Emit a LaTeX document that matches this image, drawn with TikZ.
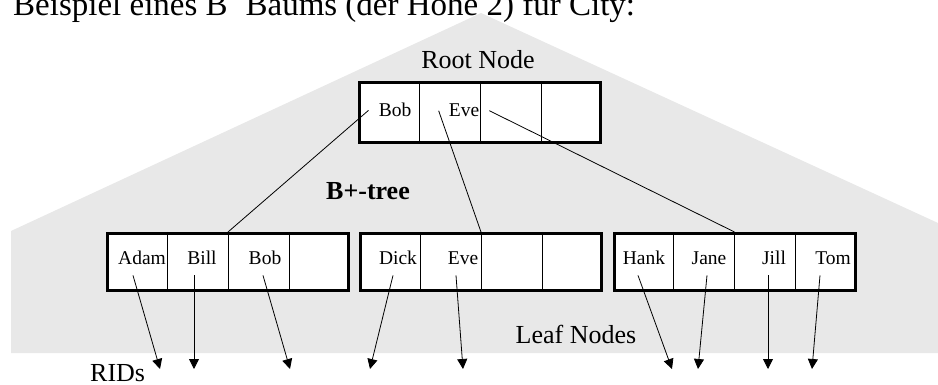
\documentclass[tikz,border=0pt]{standalone}
\usepackage{fontspec}
\setmainfont{Liberation Serif}
\usetikzlibrary{arrows.meta,calc}
\definecolor{treegray}{HTML}{E8E8E8}
\begin{document}
\begin{tikzpicture}[x=1pt,y=-1pt,line cap=butt,line join=miter,
	>={Triangle[length=10pt,width=10pt]},
	page/.style={draw,line width=3pt,fill=white,minimum width=241pt,inner sep=0pt},
	key/.style={inner sep=10pt,anchor=base,font=\fontsize{19.5}{22}\selectfont},
	lbl/.style={anchor=base,font=\fontsize{26}{30}\selectfont},
	ptr/.style={->,line width=0.8pt}]
	\useasboundingbox (0,0) rectangle (938,385);
	% Titel (oben abgeschnitten)
	\node[anchor=base west,inner sep=0pt,font=\fontsize{33}{38}\selectfont] (title) at (13,16)
		{Beispiel eines B\raisebox{0.6em}{\fontsize{20}{20}\selectfont +-}Baums (der Höhe 2) für City:};
	% grauer Baum
	\fill[treegray] (11,353)--(11,231)--(481,13)--(938,223)--(938,353)--cycle;
	% Seiten
	\node[page,minimum height=60pt] (root) at (480,112.5) {};
	\node[page,minimum height=57pt] (leafA) at (228,262) {};
	\node[page,minimum height=57pt] (leafB) at (481,262) {};
	\node[page,minimum height=57pt] (leafC) at (734.5,262) {};
	\foreach \b in {root,leafA,leafB,leafC}{
		\foreach \f in {0.25,0.5,0.75}{
			\draw[line width=0.8pt] ($(\b.north west)!\f!(\b.north east)$)--($(\b.south west)!\f!(\b.south east)$);}}
	% Beschriftungen
	\node[lbl] (rootlbl) at (478,69) {Root Node};
	\node[lbl,font=\fontsize{26}{30}\selectfont\bfseries] (treelbl) at (368,200) {B+-tree};
	\node[lbl] (leaflbl) at (576,343) {Leaf Nodes};
	\node[lbl,anchor=base west,inner sep=0pt] (ridlbl) at (90,381) {RIDs};
	% Wurzel
	\node[key] (rBob) at (395,117) {Bob};
	\node[key] (rEve) at (464,117) {Eve};
	\draw[line width=0.8pt] (rBob.west)--(leafA.north);
	\draw[line width=0.8pt] (rEve.west)--(leafB.north);
	\draw[line width=0.8pt] (rEve.east)--(leafC.north);
	% Blaetter und RIDs
	\foreach \t/\x/\d/\e in {Adam/142/-9/160,Bill/202/-8/194,Bob/265/-2/290,
		Dick/398/-5/370,Eve/463/-7/463,Hank/644/-6/672,Jane/709/-2/698,
		Jill/774/-6/768,Tom/833/-13/812}{
		\node[key] (l\t) at (\x,265) {\t};
		\coordinate (rid\t) at (\e,369);
		\draw[ptr] ([xshift=\d pt]l\t.south)--(rid\t);}
\end{tikzpicture}
\end{document}
